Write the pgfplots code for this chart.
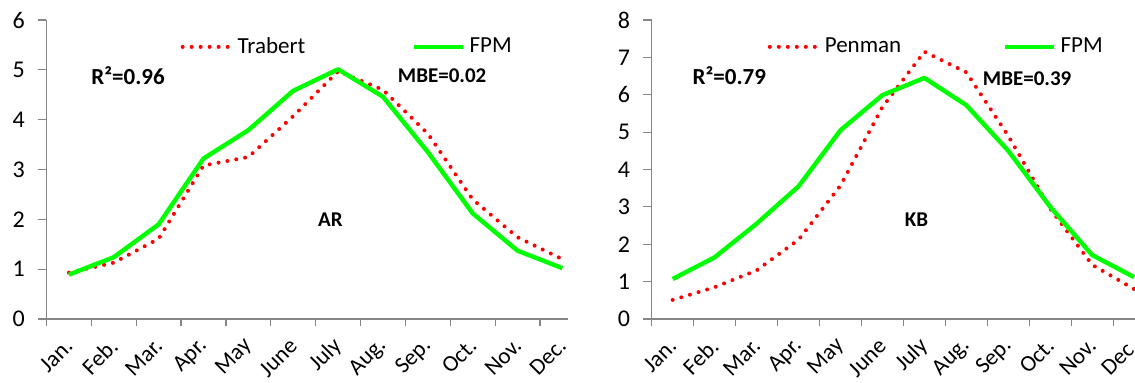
\documentclass[border=0pt]{standalone}
\usepackage{pgfplots}
\pgfplotsset{compat=1.18}
\usepackage{fontspec}
\setmainfont{Carlito}
\definecolor{axgray}{RGB}{134,134,134}
\definecolor{fpmgreen}{RGB}{0,255,0}
\definecolor{dotred}{RGB}{255,0,0}
\tikzset{ann/.style={font=\bfseries\fontsize{10.5}{12}\selectfont},
         annr/.style={font=\bfseries\fontsize{11.5}{13}\selectfont}}
\pgfplotsset{
  ourstyle/.style={
    scale only axis, height=149.5pt, xmin=0.5, ymin=0,
    axis x line*=bottom, axis y line*=left,
    axis line style={draw=axgray, line width=0.6pt},
    tick align=outside,
    tick style={draw=axgray, line width=0.6pt},
    major tick length=4.3pt, minor tick length=3.5pt,
    xtick={1,...,12},
    xticklabels={Jan.,Feb.,Mar.,Apr.,May,June,July,Aug.,Sep.,Oct.,Nov.,Dec.},
    minor xtick={0.5,1.5,...,11.5},
    major x tick style={draw=none},
    xticklabel style={yshift=-5pt, xshift=2.5pt, rotate=45, anchor=east, font=\fontsize{11.5}{13}\selectfont},
    yticklabel style={font=\fontsize{12}{14}\selectfont, xshift=-3pt},
    /pgf/number format/assume math mode=true,
    legend columns=2,
    legend style={draw=none, fill=none, font=\fontsize{11.5}{13}\selectfont, anchor=west},
    legend image code/.code={\draw[##1] (0pt,0pt) -- (24.5pt,0pt);},
  },
  reddot/.style={draw=dotred, line width=2pt, line cap=round, dash pattern=on 0pt off 4.5pt},
  greenl/.style={draw=fpmgreen, line width=2.2pt, line join=round},
}
\begin{document}
\begin{tikzpicture}
\useasboundingbox (0,0) rectangle (567.5pt,191.5pt);
\clip (0,0) rectangle (567.5pt,191.5pt);
\begin{axis}[ourstyle, at={(23.25pt,32pt)}, anchor=south west, width=260.75pt,
  xmax=12.125, ymax=6, ytick={0,...,6},
  legend style={at={(0.245,0.91)}, /tikz/every even column/.append style={column sep=51.5pt}}]
\addplot[reddot] coordinates {(1,0.93) (2,1.13) (3,1.61) (4,3.08) (5,3.25) (6,4.07) (7,4.97) (8,4.6) (9,3.72) (10,2.4) (11,1.64) (12,1.2)};
\addlegendentry{Trabert}
\addplot[greenl] coordinates {(1,0.89) (2,1.24) (3,1.9) (4,3.22) (5,3.79) (6,4.58) (7,5.01) (8,4.46) (9,3.35) (10,2.12) (11,1.37) (12,1.02)};
\addlegendentry{FPM}
\node[annr] at (axis cs:2.32,4.88) {R²=0.96};
\node[ann] at (axis cs:9.32,4.88) {MBE=0.02};
\node[ann] at (axis cs:6.83,2.0) {AR};
\end{axis}
\begin{axis}[ourstyle, at={(325.85pt,32pt)}, anchor=south west, width=251.7pt,
  xmax=12.5, ymax=8, ytick={0,...,8},
  legend style={at={(0.218,0.91)}, /tikz/every even column/.append style={column sep=49pt}}]
\addplot[reddot] coordinates {(1,0.51) (2,0.85) (3,1.3) (4,2.12) (5,3.57) (6,5.67) (7,7.15) (8,6.6) (9,4.9) (10,2.95) (11,1.45) (12,0.8)};
\addlegendentry{Penman}
\addplot[greenl] coordinates {(1,1.07) (2,1.65) (3,2.55) (4,3.55) (5,5.05) (6,5.99) (7,6.45) (8,5.72) (9,4.5) (10,3.0) (11,1.71) (12,1.12)};
\addlegendentry{FPM}
\node[annr] at (axis cs:2.35,6.5) {R²=0.79};
\node[ann] at (axis cs:9.45,6.44) {MBE=0.39};
\node[ann] at (axis cs:6.81,2.67) {KB};
\end{axis}
\end{tikzpicture}
\end{document}
